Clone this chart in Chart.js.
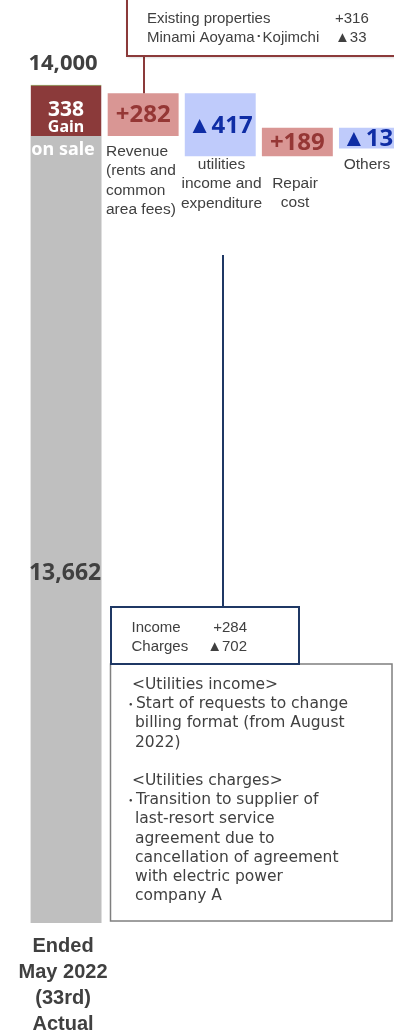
<!DOCTYPE html>
<html>
<head>
<meta charset="utf-8">
<script src="https://cdn.jsdelivr.net/npm/chart.js@4/dist/chart.umd.min.js"></script>
<style>
  html, body { margin: 0; padding: 0; background: #fff; overflow: hidden; }
  #wrap { width: 430px; height: 1033px; }
</style>
</head>
<body>
<div id="wrap"><canvas id="waterfall" width="430" height="1033"></canvas></div>
<script>
// Category labels (one line per array entry)
const categoryLines = [
  ['Ended', 'May 2022', '(33rd)', 'Actual'],
  ['Revenue', '(rents and', 'common', 'area fees)'],
  ['utilities', 'income and', 'expenditure'],
  ['Repair', 'cost'],
  ['Others'],
];
const categories = categoryLines.map(l => l.join(' '));

// Values (million yen)
const startValue = 13662;
const gainOnSale = 338;
const deltas = [282, -417, 189, -138];

// Visible part of the value axis (lower part is cut off)
const axisMin = 8450;
const axisMax = 14350;

// Callout texts
const revenueNotes = [['Existing properties', '+316'], ['Minami Aoyama\uFF65Kojimchi', '\u25B233']];
const utilityNotes = [['Income', '+284'], ['Charges', '\u25B2702']];
const utilityDetail = [
  ['h', '<Utilities income>'],
  ['b', 'Start of requests to change'],
  ['c', 'billing format (from August'],
  ['c', '2022)'],
  ['', ''],
  ['h', '<Utilities charges>'],
  ['b', 'Transition to supplier of'],
  ['c', 'last-resort service'],
  ['c', 'agreement due to'],
  ['c', 'cancellation of agreement'],
  ['c', 'with electric power'],
  ['c', 'company A'],
];

const GRAY = '#BFBFBF', GAIN = '#8B3A3A';
const POS_FILL = '#D99694', POS_TEXT = '#953735';
const NEG_FILL = '#BFCBFB', NEG_TEXT = '#0F2DA5';
const TEXT = '#404040', NAVY = '#1F3864';

const fmtDelta = d => (d >= 0 ? '+' : '\u25B2') + Math.abs(d).toLocaleString('en-US');

// floating ranges for the steps
const steps = [[startValue, startValue + gainOnSale]];
let level = startValue;
deltas.forEach(d => {
  steps.push([Math.min(level, level + d), Math.max(level, level + d)]);
  level += d;
});
const stepColors = [GAIN, ...deltas.map(d => d >= 0 ? POS_FILL : NEG_FILL)];

function txt(ctx, s, x, y, font, color, align) {
  ctx.font = font;
  ctx.fillStyle = color;
  ctx.textAlign = align || 'center';
  ctx.textBaseline = 'middle';
  ctx.fillText(s, x, y);
}

const annotations = {
  id: 'annotations',
  afterDatasetsDraw(chart) {
    const ctx = chart.ctx;
    const y = chart.scales.y;
    const bars = chart.getDatasetMeta(1).data;
    ctx.save();

    // totals on the first column
    const x0 = bars[0].x;
    txt(ctx, (startValue + gainOnSale).toLocaleString('en-US'), x0 - 3, y.getPixelForValue(startValue + gainOnSale) - 21,
      'bold 22px "Noto Sans"', TEXT);
    txt(ctx, String(gainOnSale), x0, 110, 'bold 21px "Noto Sans"', '#fff');
    txt(ctx, 'Gain', x0, 127, 'bold 16px "Noto Sans"', '#fff');
    txt(ctx, 'on sale', x0 - 3, 150, 'bold 18px "Noto Sans"', '#fff');
    txt(ctx, startValue.toLocaleString('en-US'), x0 - 1, 573, 'bold 23px "Noto Sans"', TEXT);
    categoryLines[0].forEach((s, i) => txt(ctx, s, x0 - 3, 946 + i * 26, 'bold 20px "Liberation Sans"', TEXT));

    // step values inside the bars
    deltas.forEach((d, i) => {
      const b = bars[i + 1];
      txt(ctx, fmtDelta(d), b.x, (b.y + b.base) / 2 + 1, 'bold 24px "Noto Sans"', d >= 0 ? POS_TEXT : NEG_TEXT);
    });

    // category names under the steps
    const labelPos = [null, [106, 152, 'left'], [221.5, 165], [295, 184], [367, 165]];
    for (let i = 1; i < categoryLines.length; i++) {
      const [lx, ly, al] = labelPos[i];
      categoryLines[i].forEach((s, j) => txt(ctx, s, lx, ly + j * 19.2, '15.5px "Liberation Sans"', TEXT, al || 'center'));
    }

    // revenue callout
    ctx.lineWidth = 2;
    ctx.strokeStyle = GAIN;
    ctx.beginPath();
    ctx.moveTo(144, 56);
    ctx.lineTo(144, bars[1].y);
    ctx.stroke();
    ctx.save();
    ctx.shadowColor = 'rgba(0,0,0,0.25)';
    ctx.shadowBlur = 3;
    ctx.shadowOffsetX = 1;
    ctx.shadowOffsetY = 1;
    ctx.fillStyle = '#fff';
    ctx.fillRect(127, -4, 320, 60);
    ctx.restore();
    ctx.strokeRect(127, -4, 320, 60);
    revenueNotes.forEach(([a, b], i) => {
      txt(ctx, a, 147, 18.5 + i * 19.2, '15px "Liberation Sans"', TEXT, 'left');
      txt(ctx, b, 335, 18.5 + i * 19.2, '15px "Liberation Sans"', TEXT, 'left');
    });

    // utilities callout
    ctx.strokeStyle = NAVY;
    ctx.beginPath();
    ctx.moveTo(223, 255);
    ctx.lineTo(223, 607);
    ctx.stroke();

    ctx.lineWidth = 1.5;
    ctx.strokeStyle = '#7F7F7F';
    ctx.strokeRect(110.5, 664, 281.5, 257);
    ctx.lineWidth = 2;
    ctx.strokeStyle = NAVY;
    ctx.fillStyle = '#fff';
    ctx.fillRect(111, 607, 188, 57);
    ctx.strokeRect(111, 607, 188, 57);
    utilityNotes.forEach(([a, b], i) => {
      txt(ctx, a, 131.5, 628.3 + i * 19, '15px "Liberation Sans"', TEXT, 'left');
      txt(ctx, b, 247, 628.3 + i * 19, '15px "Liberation Sans"', TEXT, 'right');
    });

    utilityDetail.forEach(([kind, s], i) => {
      const ly = 685 + i * 19.2;
      const f = '15.5px "DejaVu Sans"';
      if (kind === 'h') txt(ctx, s, 132, ly, f, TEXT, 'left');
      if (kind === 'c') txt(ctx, s, 135, ly, f, TEXT, 'left');
      if (kind === 'b') {
        txt(ctx, '\uFF65', 127, ly, '15px "Noto Sans CJK JP"', TEXT, 'left');
        txt(ctx, s, 136, ly, f, TEXT, 'left');
      }
    });

    ctx.restore();
  },
};

new Chart(document.getElementById('waterfall'), {
  type: 'bar',
  data: {
    labels: categories,
    datasets: [
      {
        data: [[axisMin, startValue], null, null, null, null],
        backgroundColor: GRAY,
        grouped: false,
        barPercentage: 0.92,
        categoryPercentage: 1,
      },
      {
        data: steps,
        backgroundColor: stepColors,
        borderColor: '#77933C',
        borderWidth: c => c.dataIndex === 0 ? { top: 1, left: 0, right: 0, bottom: 0 } : 0,
        borderSkipped: false,
        grouped: false,
        barPercentage: 0.92,
        categoryPercentage: 1,
      },
    ],
  },
  options: {
    responsive: false,
    devicePixelRatio: 1,
    animation: false,
    layout: { padding: { left: 27.5, right: 17, top: 32, bottom: 110 } },
    plugins: { legend: { display: false }, tooltip: { enabled: false } },
    scales: {
      x: { display: false },
      y: { display: false, min: axisMin, max: axisMax },
    },
  },
  plugins: [annotations],
});
</script>
</body>
</html>
